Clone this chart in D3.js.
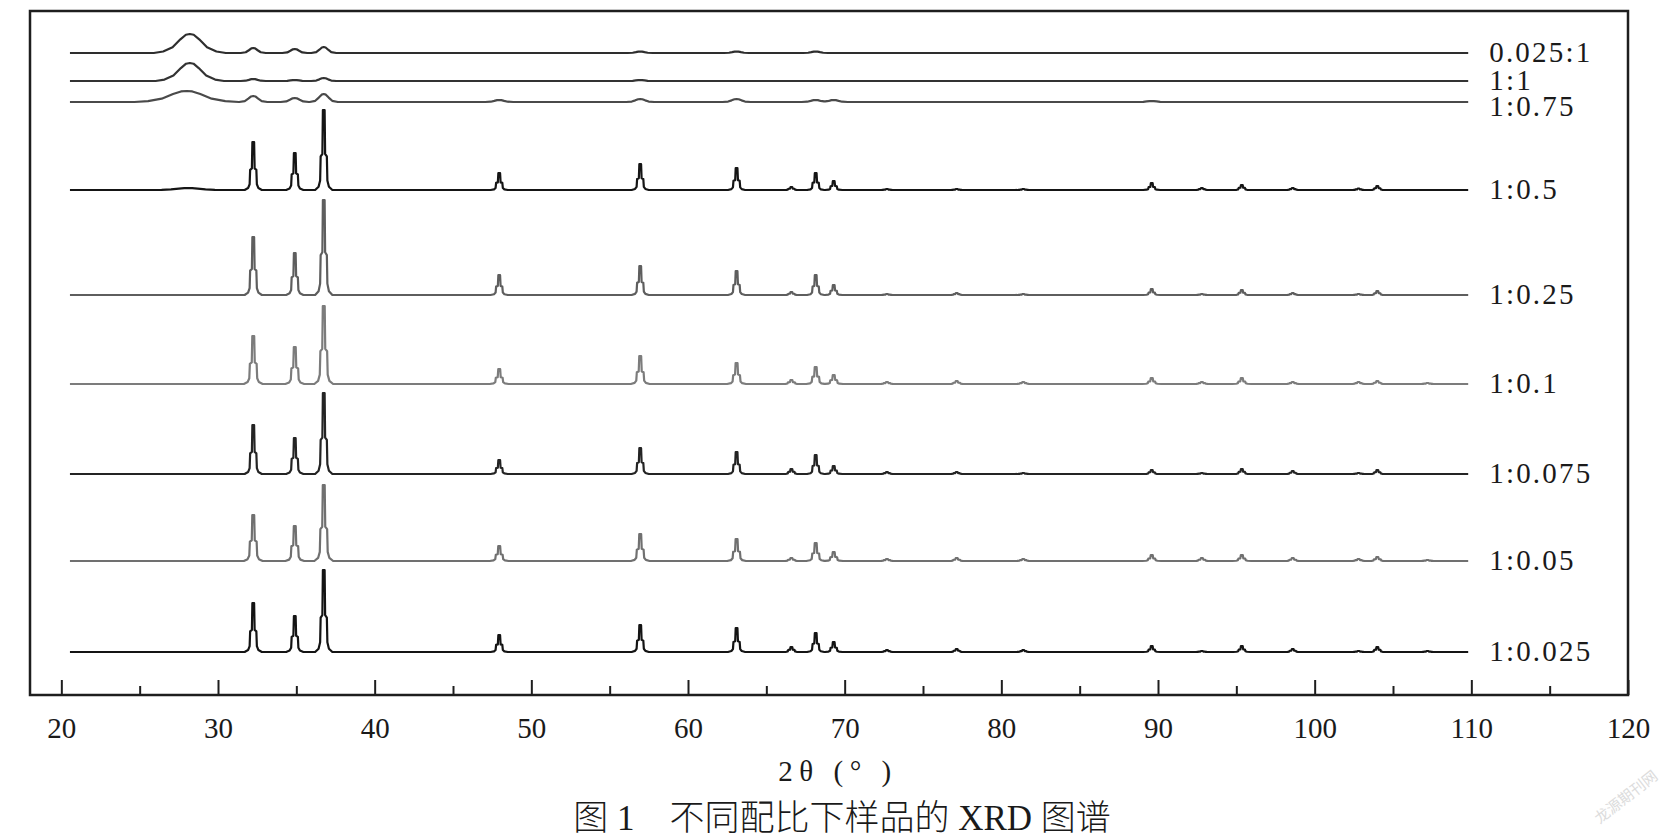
<!DOCTYPE html>
<html><head><meta charset="utf-8">
<script src="https://cdn.jsdelivr.net/npm/d3@7"></script>
<style>html,body{margin:0;padding:0;background:#fff;} svg{display:block;}</style>
</head><body>
<svg id="chart" width="1668" height="840"></svg>
<script>
// ---------------- data ----------------
const seriesNames   = ["0.025:1","1:1","1:0.75","1:0.5","1:0.25","1:0.1","1:0.075","1:0.05","1:0.025"];
const seriesOffsets = [642, 614, 593, 505, 400, 311, 221, 134, 43];   // stacking offsets (a.u.)
const peakPositions = [32.25, 34.9, 36.75, 47.95, 56.95, 63.1, 66.6, 68.15, 69.3, 72.7, 77.15, 81.4, 89.6, 92.8, 95.35, 98.6, 102.8, 104.0, 107.2];
const heights_0025to1 = [5, 4, 6, 0, 1.5, 1.5, 0, 1.5, 0, 0, 0, 0, 0, 0, 0, 0, 0, 0, 0];
const heights_1to1    = [2, 1, 3, 0, 1, 0, 0, 0, 0, 0, 0, 0, 0, 0, 0, 0, 0, 0, 0];
const heights_1to075  = [6, 4, 8, 2, 3, 3, 0, 2, 2, 0, 0, 0, 1, 0, 0, 0, 0, 0, 0];
const heights_1to05   = [48, 37, 80, 17, 26, 22, 3, 17, 9, 1, 1, 1, 7, 2, 5, 2, 1.5, 4, 0];
const heights_1to025  = [58, 42, 95, 20, 29, 24, 3, 20, 10, 1, 2, 1, 6, 1, 5, 2, 1, 4, 0];
const heights_1to01   = [48, 37, 78, 15, 28, 21, 4, 17, 9, 2, 3, 2, 6, 2, 6, 2, 2, 3, 1];
const heights_1to0075 = [49, 36, 81, 14, 26, 22, 5, 19, 8, 2, 2, 1, 4, 1, 5, 3, 1, 4, 0];
const heights_1to005  = [46, 35, 76, 15, 27, 22, 3, 18, 9, 2, 3, 2, 6, 3, 6, 3, 2, 4, 1];
const heights_1to0025 = [49, 36, 82, 17, 27, 24, 5, 19, 10, 2, 3, 2, 6, 1, 6, 3, 1, 5, 1];
const peakWidths    = [0.8, 0.8, 0.9, 0.55, 0.55, 0.6, 0.55, 0.6, 0.55];   // half base width, degrees
const humpCenters   = [28.2, 28.2, 28.0, 28.1, 28.1, 28.1, 28.1, 28.1, 28.1];
const humpHeights   = [19, 18, 11, 2, 0, 0, 0, 0, 0];
const humpWidths    = [1.0, 0.95, 1.45, 1.0, 1, 1, 1, 1, 1];
const scanRange     = [20.55, 109.8];
const xTicksMajor   = [20, 30, 40, 50, 60, 70, 80, 90, 100, 110, 120];
const xTicksMinor   = [25, 35, 45, 55, 65, 75, 85, 95, 105, 115];
const xTitle  = "2θ (° )";
const caption = "图 1　不同配比下样品的 XRD 图谱";

const heightsBySeries = [heights_0025to1, heights_1to1, heights_1to075, heights_1to05, heights_1to025,
                         heights_1to01, heights_1to0075, heights_1to005, heights_1to0025];
const seriesColors = ["#2e2e2e","#333333","#4a4a4a","#151515","#5e5e5e","#7c7c7c","#242424","#707070","#141414"];

// ---------------- layout ----------------
const svg = d3.select("#chart");
const frame = {left: 30, right: 1628, top: 11, bottom: 695};
const x = d3.scaleLinear().domain([18, 120]).range([frame.left, frame.right]);
const y = d3.scaleLinear().domain([0, 684]).range([frame.bottom, frame.top]);

// peak profile templates (dx in units of half-width, fraction of height)
const sharpShape = [[-1,0],[-0.6,0.04],[-0.42,0.12],[-0.36,0.42],[-0.16,0.45],[-0.1,1],[0.1,1],[0.16,0.45],[0.36,0.42],[0.42,0.12],[0.6,0.04],[1,0]];
const roundShape = [[-1,0],[-0.6,0.15],[-0.35,0.55],[-0.15,0.92],[0,1],[0.15,0.92],[0.35,0.55],[0.6,0.15],[1,0]];
const humpShape  = [[-2.3,0],[-1.7,0.08],[-1.1,0.3],[-0.6,0.72],[-0.25,0.96],[0,1],[0.25,0.96],[0.6,0.72],[1.1,0.3],[1.7,0.08],[2.3,0]];

function shapeValue(f, xv) {
  const t = (xv - f.c) / f.w;
  const s = f.shape;
  if (t <= s[0][0] || t >= s[s.length-1][0]) return 0;
  for (let i = 1; i < s.length; i++) {
    if (t <= s[i][0]) {
      const a = s[i-1], b = s[i];
      const k = (t - a[0]) / (b[0] - a[0]);
      return f.h * (a[1] + k * (b[1] - a[1]));
    }
  }
  return 0;
}

const line = d3.line().x(d => x(d[0])).y(d => y(d[1]));

const plot = svg.append("g");
seriesNames.forEach((name, si) => {
  const feats = [];
  const w = peakWidths[si];
  heightsBySeries[si].forEach((h, pi) => {
    if (h > 0) feats.push({c: peakPositions[pi], h: h, w: w, shape: w > 0.7 ? roundShape : sharpShape});
  });
  if (humpHeights[si] > 0) feats.push({c: humpCenters[si], h: humpHeights[si], w: humpWidths[si], shape: humpShape});
  let xs = [scanRange[0], scanRange[1]];
  feats.forEach(f => f.shape.forEach(p => {
    const xv = f.c + p[0] * f.w;
    if (xv > scanRange[0] && xv < scanRange[1]) xs.push(xv);
  }));
  xs = Array.from(new Set(xs)).sort((a, b) => a - b);
  const pts = xs.map(xv => [xv, seriesOffsets[si] + d3.sum(feats, f => shapeValue(f, xv))]);
  plot.append("path")
    .attr("d", line(pts))
    .attr("fill", "none")
    .attr("stroke", seriesColors[si])
    .attr("stroke-width", 2.2)
    .attr("stroke-linejoin", "round");
});

// series labels (pushed down if they would overlap)
let prevY = -Infinity;
seriesNames.forEach((name, si) => {
  let ly = y(seriesOffsets[si]) - 1;
  if (ly - prevY < 26) ly = prevY + 26;
  prevY = ly;
  svg.append("text")
    .attr("x", x(scanRange[1]) + 21)
    .attr("y", ly)
    .attr("dy", "0.34em")
    .attr("font-family", "'Liberation Serif', 'Times New Roman', serif")
    .attr("font-size", 29)
    .attr("letter-spacing", 2.2)
    .attr("fill", "#1a1a1a")
    .text(name);
});

// frame
svg.append("rect")
  .attr("x", frame.left).attr("y", frame.top)
  .attr("width", frame.right - frame.left).attr("height", frame.bottom - frame.top)
  .attr("fill", "none").attr("stroke", "#1e1e1e").attr("stroke-width", 2.5);

// x axis (ticks pointing inward)
const axMajor = d3.axisBottom(x).tickValues(xTicksMajor).tickSize(-15).tickPadding(22).tickFormat(d3.format("d"));
const gMaj = svg.append("g").attr("transform", `translate(0,${frame.bottom})`).call(axMajor);
gMaj.select(".domain").remove();
gMaj.selectAll(".tick line").attr("stroke", "#1e1e1e").attr("stroke-width", 2);
gMaj.selectAll(".tick text")
  .attr("font-family", "'Liberation Serif', 'Times New Roman', serif")
  .attr("font-size", 29).attr("fill", "#1a1a1a").attr("dy", "0.71em");
const axMinor = d3.axisBottom(x).tickValues(xTicksMinor).tickSize(-9).tickFormat("");
const gMin = svg.append("g").attr("transform", `translate(0,${frame.bottom})`).call(axMinor);
gMin.select(".domain").remove();
gMin.selectAll(".tick line").attr("stroke", "#1e1e1e").attr("stroke-width", 2);

// axis title
svg.append("text")
  .attr("x", 838).attr("y", 781)
  .attr("text-anchor", "middle")
  .attr("font-family", "'Liberation Serif', 'Times New Roman', serif")
  .attr("font-size", 29).attr("letter-spacing", 6.5).attr("fill", "#1a1a1a")
  .text(xTitle);

// caption
svg.append("text")
  .attr("x", 842).attr("y", 830)
  .attr("text-anchor", "middle")
  .attr("font-family", "'Liberation Serif', 'Noto Sans CJK SC', serif")
  .attr("font-weight", 300)
  .attr("font-size", 35).attr("fill", "#1a1a1a")
  .text(caption);

// watermark
svg.append("text")
  .attr("transform", "translate(1626,797) rotate(-38)")
  .attr("text-anchor", "middle").attr("dy", "0.35em")
  .attr("font-family", "'Noto Sans CJK SC', sans-serif")
  .attr("font-size", 15).attr("fill", "#dcdcdc")
  .text("龙源期刊网");
</script>
</body></html>
